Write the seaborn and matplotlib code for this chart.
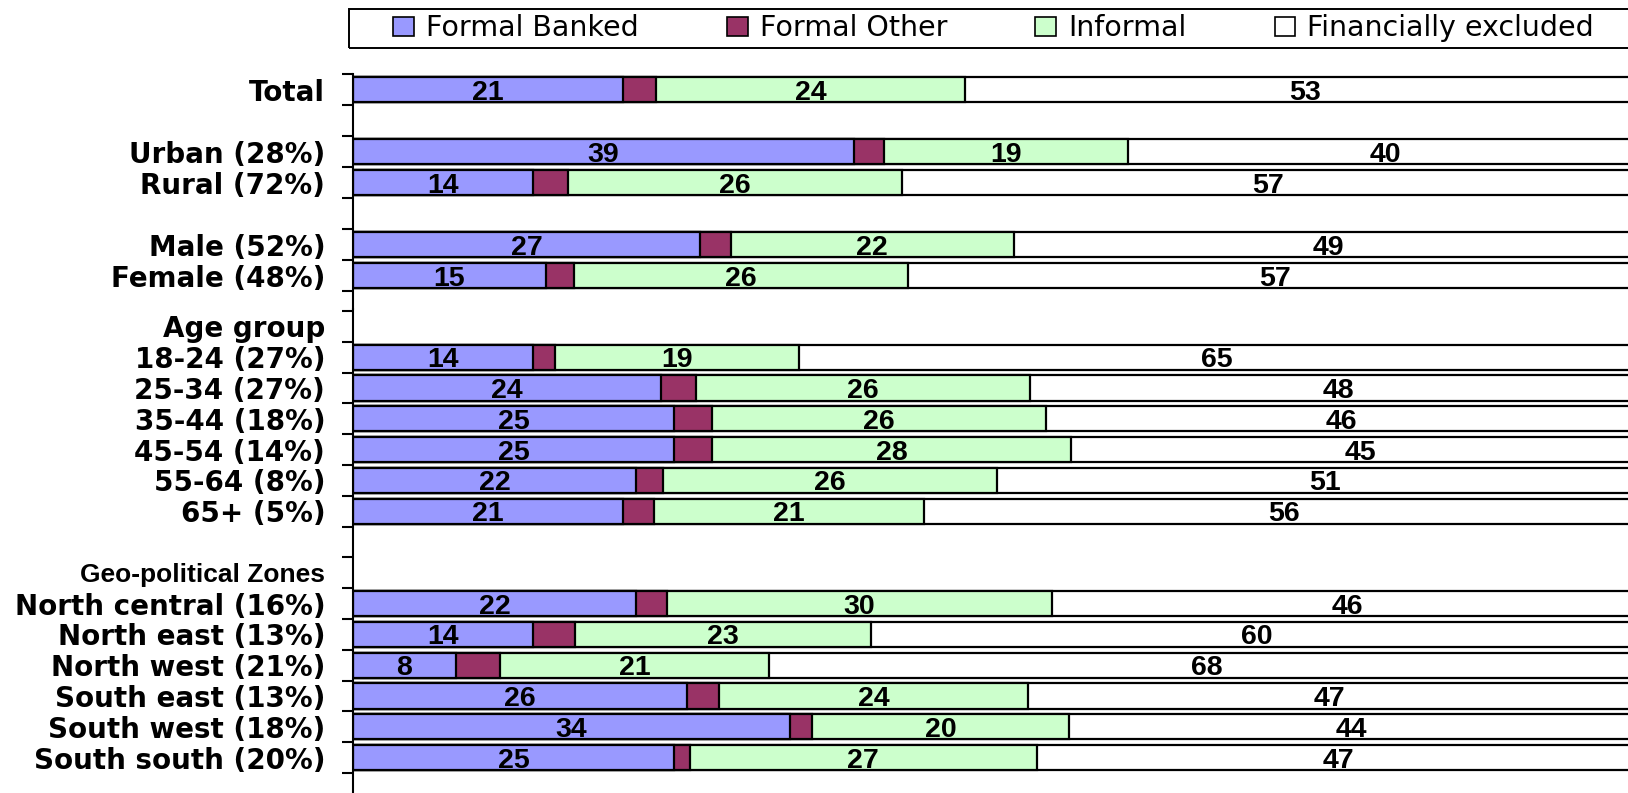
import numpy as np
import pandas as pd
import matplotlib
matplotlib.use("Agg")
import matplotlib.pyplot as plt
import seaborn as sns
from matplotlib.patches import Patch, Rectangle

# ---- data -------------------------------------------------------------
series_names = ["Formal Banked", "Formal Other", "Informal", "Financially excluded"]
series_colors = ["#9999FF", "#993366", "#CCFFCC", "#FFFFFF"]

# upper block: overall, location, gender ("" rows are spacers)
top_order = ["Total", "", "Urban (28%)", "Rural (72%)", " ", "Male (52%)", "Female (48%)"]
top_rows = ["Total", "Urban (28%)", "Rural (72%)", "Male (52%)", "Female (48%)"]
top_banked = [21, 39, 14, 27, 15]
top_other = [2.6, 2.3, 2.7, 2.4, 2.2]
top_informal = [24, 19, 26, 22, 26]
top_excluded = [53, 40, 57, 49, 57]

# lower block: age groups and geo-political zones
bottom_order = ["Age group", "18-24 (27%)", "25-34 (27%)", "35-44 (18%)", "45-54 (14%)",
                "55-64 (8%)", "65+ (5%)", "  ", "Geo-political Zones",
                "North central (16%)", "North east (13%)", "North west (21%)",
                "South east (13%)", "South west (18%)", "South south (20%)"]
bottom_rows = ["18-24 (27%)", "25-34 (27%)", "35-44 (18%)", "45-54 (14%)", "55-64 (8%)",
               "65+ (5%)", "North central (16%)", "North east (13%)", "North west (21%)",
               "South east (13%)", "South west (18%)", "South south (20%)"]
bottom_banked = [14, 24, 25, 25, 22, 21, 22, 14, 8, 26, 34, 25]
bottom_other = [1.7, 2.7, 2.9, 2.9, 2.1, 2.4, 2.4, 3.3, 3.4, 2.5, 1.7, 1.2]
bottom_informal = [19, 26, 26, 28, 26, 21, 30, 23, 21, 24, 20, 27]
bottom_excluded = [65, 48, 46, 45, 51, 56, 46, 60, 68, 47, 44, 47]

small_heading = "Geo-political Zones"

# ---- figure -----------------------------------------------------------
W, H = 1628, 793
fig = plt.figure(figsize=(W / 100, H / 100), dpi=100)
plt.rcParams["font.family"] = ["DejaVu Sans"]

x_left = 353
x_max = 99.2

ax_top = fig.add_axes([x_left / W, 1 - 309 / H, 1 - x_left / W, (309 - 74) / H])
ax_bot = fig.add_axes([x_left / W, 0.0, 1 - x_left / W, (H - 309) / H])

value_font = dict(family="Liberation Sans", weight="bold", size=20.5)


def draw_block(ax, order, rows, banked, other, informal, excluded, ylim):
    df = pd.DataFrame({"row": rows, "banked": banked, "other": other,
                       "informal": informal, "excluded": excluded})
    df["c1"] = df["banked"]
    df["c2"] = df["c1"] + df["other"]
    df["c3"] = df["c2"] + df["informal"]
    df["c4"] = df["c3"] + df["excluded"]
    # cumulative bars drawn back to front give the stacked look
    for col, colr in zip(["c4", "c3", "c2", "c1"], series_colors[::-1]):
        sns.barplot(data=df, x=col, y="row", order=order, orient="h", color=colr,
                    saturation=1, edgecolor="black", linewidth=1.6, width=0.82,
                    errorbar=None, ax=ax)
    for _, r in df.iterrows():
        pos = order.index(r["row"])
        ax.text(r["banked"] / 2, pos, f"{r['banked']:.0f}", ha="center",
                va="center_baseline", **value_font)
        ax.text(r["c2"] + r["informal"] / 2, pos, f"{r['informal']:.0f}", ha="center",
                va="center_baseline", **value_font)
        ax.text(r["c3"] + r["excluded"] / 2, pos, f"{r['excluded']:.0f}", ha="center",
                va="center_baseline", **value_font)

    ax.set_xlim(0, x_max)
    ax.set_ylim(*ylim)
    ax.set_xlabel("")
    ax.set_ylabel("")
    ax.set_xticks([])
    for s in ["top", "right", "bottom"]:
        ax.spines[s].set_visible(False)
    ax.spines["left"].set_linewidth(1.5)
    ax.spines["left"].set_color("black")

    ax.set_yticks(range(len(order)), labels=[lab.strip() for lab in order])
    ax.set_yticks(np.arange(-0.5, len(order)), minor=True)
    ax.tick_params(axis="y", which="major", length=0, pad=20)
    ax.tick_params(axis="y", which="minor", length=8, width=1.5, color="black",
                   direction="out")
    for t in ax.get_yticklabels():
        if t.get_text() == small_heading:
            t.set_fontfamily("Liberation Sans")
            t.set_fontweight("bold")
            t.set_fontsize(19)
        else:
            t.set_fontfamily("DejaVu Sans")
            t.set_fontweight("bold")
            t.set_fontsize(20)
    ax.set_facecolor("none")


draw_block(ax_top, top_order, top_rows, top_banked, top_other, top_informal,
           top_excluded, (7.08, -0.5))
draw_block(ax_bot, bottom_order, bottom_rows, bottom_banked, bottom_other,
           bottom_informal, bottom_excluded, (15.15, -0.565))

# ---- legend -----------------------------------------------------------
handles = [Patch(facecolor=c, edgecolor="black", linewidth=1.2) for c in series_colors]
fig.legend(handles, series_names, loc="center left",
           bbox_to_anchor=(393 / W, 1 - 28.5 / H), ncol=4, frameon=False,
           fontsize=20.5, handlelength=0.73, handleheight=0.6, handletextpad=0.42,
           columnspacing=3.1, borderpad=0, borderaxespad=0)
fig.add_artist(Rectangle((349 / W, 1 - 48 / H), (1650 - 349) / W, 39 / H,
                         transform=fig.transFigure, fill=False, edgecolor="black",
                         linewidth=1.4))

fig.savefig("out.png", dpi=100, facecolor="white")
